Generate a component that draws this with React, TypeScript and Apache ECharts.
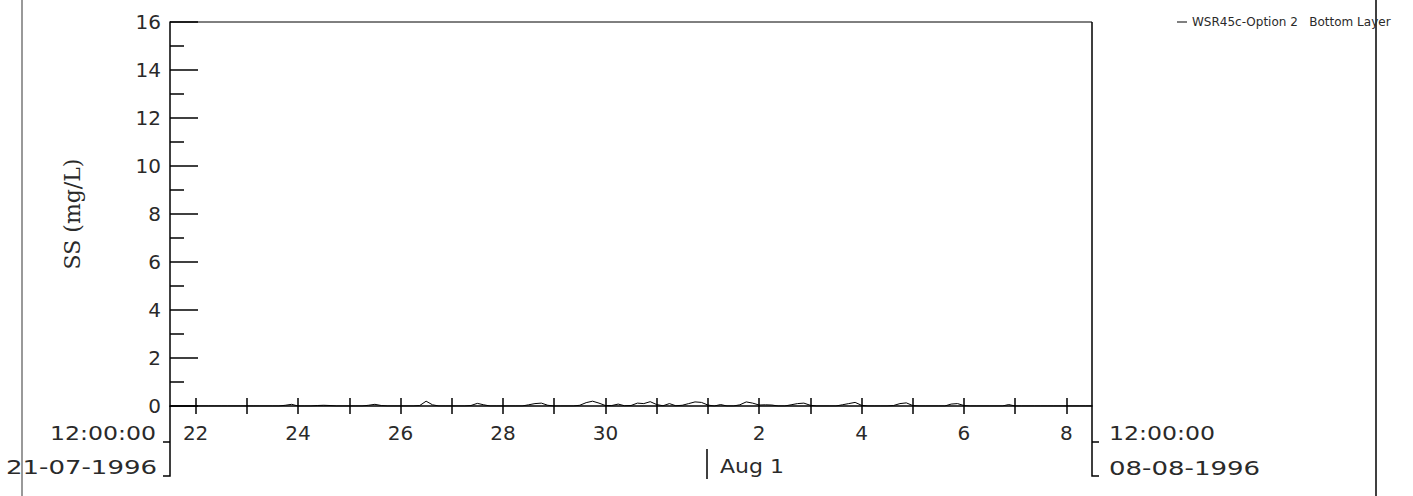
import React, { useEffect, useRef } from 'react';
import * as echarts from 'echarts';

const seriesName = 'WSR45c-Option 2   Bottom Layer';
const yAxisTitle = 'SS (mg/L)';
const startLabels = ['12:00:00', '21-07-1996'];
const endLabels = ['12:00:00', '08-08-1996'];
const monthMarker = 'Aug 1';
const xTickLabels = ['22', '24', '26', '28', '30', '2', '4', '6', '8'];
const yMin = 0;
const yMax = 16;
const yStep = 2;
// 3-hourly values from 21-07-1996 12:00 to 08-08-1996 12:00
const ssValues = [
  0, 0, 0, 0, 0, 0, 0, 0,
  0, 0, 0, 0, 0, 0, 0, 0,
  0, 0, 0.03, 0.07, 0, 0, 0, 0.02,
  0.03, 0.02, 0, 0, 0, 0, 0, 0.03,
  0.07, 0.02, 0, 0, 0, 0, 0, 0.02,
  0.2, 0.05, 0, 0, 0, 0, 0, 0.02,
  0.11, 0.05, 0, 0, 0, 0, 0, 0,
  0.05, 0.1, 0.12, 0.03, 0, 0, 0, 0,
  0.03, 0.14, 0.2, 0.12, 0.02, 0.02, 0.08, 0.01,
  0.02, 0.12, 0.1, 0.18, 0.06, 0.01, 0.1, 0.01,
  0.03, 0.1, 0.17, 0.15, 0.04, 0, 0.06, 0,
  0, 0.05, 0.17, 0.12, 0.04, 0.05, 0.04, 0,
  0, 0.05, 0.1, 0.12, 0.03, 0, 0, 0,
  0, 0.05, 0.1, 0.15, 0.03, 0, 0, 0,
  0, 0.02, 0.1, 0.13, 0.02, 0, 0, 0,
  0, 0, 0.08, 0.1, 0.02, 0, 0, 0,
  0, 0, 0, 0.06, 0, 0, 0, 0,
  0, 0, 0, 0, 0, 0, 0, 0,
  0,
];

const START = Date.UTC(1996, 6, 21, 12);
const STEP = 3 * 3600 * 1000;
const pad = (n: number) => String(n).padStart(2, '0');
const timeCategories = ssValues.map((_, i) => {
  const d = new Date(START + i * STEP);
  return `1996-${pad(d.getUTCMonth() + 1)}-${pad(d.getUTCDate())} ${pad(d.getUTCHours())}:00`;
});

const isMidnight = (v: string) => v.endsWith('00:00');
const dayOf = (v: string) => String(parseInt(v.slice(8, 10), 10));
const tickFn = (_i: number, v: string) => isMidnight(v);
const labelFn = (_i: number, v: string) => isMidnight(v) && xTickLabels.includes(dayOf(v));

const FONT = 'DejaVu Sans';
const INK = '#2a2a2a';

export default function App() {
  const ref = useRef<HTMLDivElement>(null);
  useEffect(() => {
    if (!ref.current) return;
    const chart = echarts.init(ref.current, undefined, { renderer: 'svg' });
    const gridBox = { left: 170, right: 321, top: 22, bottom: 90 };
    const lineStyle = { color: '#000', width: 1.5 };
    const textStyle = (size: number) => ({ fill: INK, fontSize: size, fontFamily: FONT });
    chart.setOption({
      animation: false,
      backgroundColor: '#fff',
      grid: [gridBox, gridBox],
      legend: {
        data: [{ name: seriesName, icon: 'rect' }],
        left: 1172,
        top: 11,
        itemWidth: 10,
        itemHeight: 1,
        textStyle: { fontSize: 12, fontFamily: FONT, color: INK },
      },
      xAxis: [
        {
          type: 'category',
          gridIndex: 0,
          data: timeCategories,
          boundaryGap: false,
          axisLine: { show: true, lineStyle },
          axisTick: { show: true, inside: false, length: 8, interval: tickFn, lineStyle },
          axisLabel: {
            show: true,
            interval: labelFn,
            formatter: (v: string) => dayOf(v),
            fontSize: 20,
            fontFamily: FONT,
            color: INK,
            margin: 17,
          },
          splitLine: { show: false },
        },
        {
          type: 'category',
          gridIndex: 1,
          data: timeCategories,
          boundaryGap: false,
          axisLine: { show: false },
          axisTick: { show: true, inside: true, length: 8, interval: tickFn, lineStyle },
          axisLabel: { show: false },
          splitLine: { show: false },
        },
      ],
      yAxis: [
        {
          type: 'value',
          gridIndex: 0,
          min: yMin,
          max: yMax,
          interval: yStep,
          axisLine: { show: true, lineStyle },
          axisTick: { show: true, inside: true, length: 28, lineStyle },
          minorTick: { show: true, splitNumber: 2, length: 14, lineStyle },
          splitLine: { show: false },
          minorSplitLine: { show: false },
          axisLabel: { fontSize: 20, fontFamily: FONT, color: INK, margin: 9 },
        },
        { type: 'value', gridIndex: 1, min: yMin, max: yMax, show: false },
      ],
      series: [
        {
          name: seriesName,
          type: 'line',
          xAxisIndex: 0,
          yAxisIndex: 0,
          data: ssValues,
          showSymbol: false,
          symbol: 'none',
          lineStyle: { color: '#000', width: 1 },
          itemStyle: { color: '#000' },
        },
      ],
      graphic: [
        { type: 'line', shape: { x1: 22, y1: 0, x2: 22, y2: 496 }, style: { stroke: '#777', lineWidth: 1.5 } },
        { type: 'line', shape: { x1: 1376, y1: 0, x2: 1376, y2: 496 }, style: { stroke: '#000', lineWidth: 1.5 } },
        { type: 'line', shape: { x1: 170, y1: 22, x2: 1092, y2: 22 }, style: { stroke: '#000', lineWidth: 1 } },
        { type: 'polyline', shape: { points: [[170, 406], [170, 476], [163, 476]] }, style: { stroke: '#000', lineWidth: 1.5, fill: 'none' } },
        { type: 'line', shape: { x1: 163, y1: 442, x2: 170, y2: 442 }, style: { stroke: '#000', lineWidth: 1.5 } },
        { type: 'polyline', shape: { points: [[1092, 22], [1092, 476], [1099, 476]] }, style: { stroke: '#000', lineWidth: 1.5, fill: 'none' } },
        { type: 'line', shape: { x1: 1092, y1: 442, x2: 1099, y2: 442 }, style: { stroke: '#000', lineWidth: 1.5 } },
        { type: 'line', shape: { x1: 707, y1: 449, x2: 707, y2: 479 }, style: { stroke: '#000', lineWidth: 1.5 } },
        { type: 'text', x: 156, y: 433, scaleX: 1.18, style: { ...textStyle(20), text: startLabels[0], align: 'right', verticalAlign: 'middle' } },
        { type: 'text', x: 157, y: 467, scaleX: 1.3, style: { ...textStyle(20), text: startLabels[1], align: 'right', verticalAlign: 'middle' } },
        { type: 'text', x: 1109, y: 433, scaleX: 1.18, style: { ...textStyle(20), text: endLabels[0], align: 'left', verticalAlign: 'middle' } },
        { type: 'text', x: 1109, y: 468, scaleX: 1.3, style: { ...textStyle(20), text: endLabels[1], align: 'left', verticalAlign: 'middle' } },
        { type: 'text', x: 720, y: 466, scaleX: 1.1, style: { ...textStyle(20), text: monthMarker, align: 'left', verticalAlign: 'middle' } },
        {
          type: 'text',
          x: 72,
          y: 214,
          rotation: Math.PI / 2,
          style: { fill: INK, fontSize: 22, fontFamily: 'DejaVu Serif', text: yAxisTitle, align: 'center', verticalAlign: 'middle' },
        },
      ],
    });
    return () => chart.dispose();
  }, []);
  return (
    <div style={{ position: 'fixed', left: 0, top: 0, width: 1413, height: 496, background: '#fff' }}>
      <div ref={ref} style={{ width: 1413, height: 496 }} />
    </div>
  );
}
